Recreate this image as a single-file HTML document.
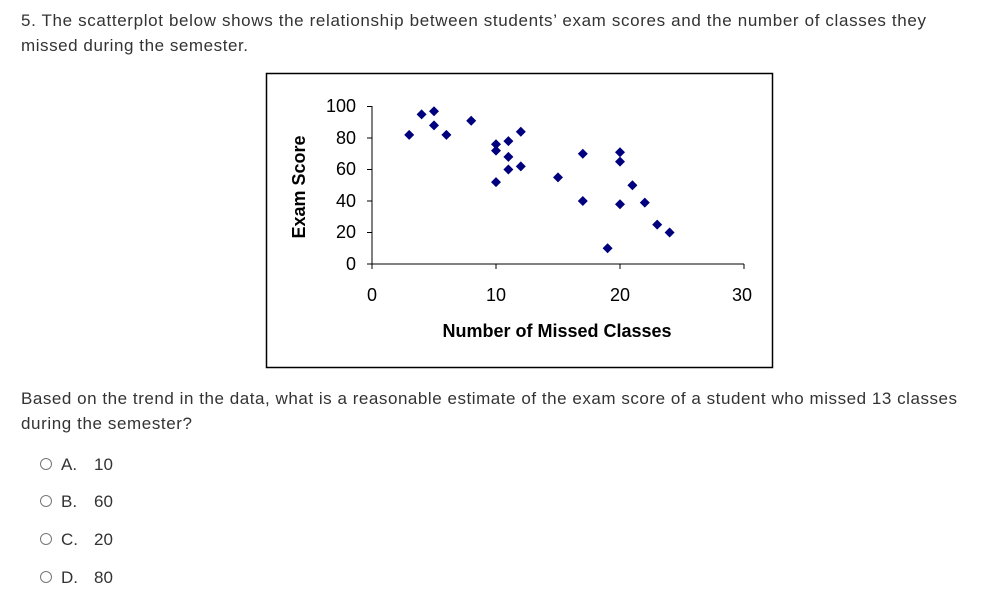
<!DOCTYPE html>
<html><head><style>
body{margin:0;background:#fff;width:995px;height:592px;overflow:hidden;font-family:"Liberation Sans",Arial,sans-serif;}
</style></head><body>
<svg width="995" height="592" xmlns="http://www.w3.org/2000/svg" font-family="Liberation Sans, Arial, sans-serif">
<g font-size="17" fill="#333">
<text x="21" y="26" textLength="905" lengthAdjust="spacing">5.  The scatterplot below shows the relationship between students’ exam scores and the number of classes they</text>
<text x="21" y="51" textLength="227" lengthAdjust="spacing">missed during the semester.</text>
<text x="21" y="404" textLength="936" lengthAdjust="spacing">Based on the trend in the data, what is a reasonable estimate of the exam score of a student who missed 13 classes</text>
<text x="21" y="429" textLength="171" lengthAdjust="spacing">during the semester?</text>
<text x="61" y="470">A.</text><text x="94" y="470">10</text>
<text x="61" y="507">B.</text><text x="94" y="507">60</text>
<text x="61" y="545">C.</text><text x="94" y="545">20</text>
<text x="61" y="583">D.</text><text x="94" y="583">80</text>
</g>
<g fill="none" stroke="#777" stroke-width="1">
<circle cx="46" cy="464" r="5.5"/><circle cx="46" cy="501" r="5.5"/><circle cx="46" cy="539" r="5.5"/><circle cx="46" cy="577" r="5.5"/>
</g>
<rect x="266.5" y="73.5" width="506" height="294" fill="#fff" stroke="#000" stroke-width="1.5"/>
<g stroke="#000" stroke-width="1">
<line x1="372" y1="106" x2="372" y2="264"/>
<line x1="372" y1="264" x2="744" y2="264"/>
<line x1="367" y1="106.5" x2="372" y2="106.5"/>
<line x1="367" y1="138" x2="372" y2="138"/>
<line x1="367" y1="169.5" x2="372" y2="169.5"/>
<line x1="367" y1="201" x2="372" y2="201"/>
<line x1="367" y1="232.5" x2="372" y2="232.5"/>
<line x1="367" y1="264" x2="372" y2="264"/>
<line x1="372" y1="264" x2="372" y2="269"/>
<line x1="496" y1="264" x2="496" y2="269"/>
<line x1="620" y1="264" x2="620" y2="269"/>
<line x1="744" y1="264" x2="744" y2="269"/>
</g>
<g font-size="18" fill="#000" text-anchor="end">
<text x="356" y="112">100</text><text x="356" y="144">80</text><text x="356" y="175">60</text>
<text x="356" y="207">40</text><text x="356" y="238">20</text><text x="356" y="270">0</text>
</g>
<g font-size="18" fill="#000" text-anchor="middle">
<text x="372" y="301">0</text><text x="496" y="301">10</text><text x="620" y="301">20</text><text x="742" y="301">30</text>
</g>
<text x="557" y="337" font-size="18" font-weight="bold" text-anchor="middle">Number of Missed Classes</text>
<text transform="translate(305,187) rotate(-90)" font-size="18" font-weight="bold" text-anchor="middle">Exam Score</text>
<path fill="#00007f" d="
M409.2 129.9l5 5l-5 5l-5 -5z
M421.6 109.4l5 5l-5 5l-5 -5z
M434 106.2l5 5l-5 5l-5 -5z
M434 120.4l5 5l-5 5l-5 -5z
M446.4 129.9l5 5l-5 5l-5 -5z
M471.2 115.7l5 5l-5 5l-5 -5z
M496 139.3l5 5l-5 5l-5 -5z
M496 145.6l5 5l-5 5l-5 -5z
M496 177.1l5 5l-5 5l-5 -5z
M508.4 136.1l5 5l-5 5l-5 -5z
M508.4 151.9l5 5l-5 5l-5 -5z
M508.4 164.5l5 5l-5 5l-5 -5z
M520.8 126.7l5 5l-5 5l-5 -5z
M520.8 161.4l5 5l-5 5l-5 -5z
M558 172.4l5 5l-5 5l-5 -5z
M582.8 148.8l5 5l-5 5l-5 -5z
M582.8 196l5 5l-5 5l-5 -5z
M607.6 243.3l5 5l-5 5l-5 -5z
M620 147.2l5 5l-5 5l-5 -5z
M620 156.6l5 5l-5 5l-5 -5z
M620 199.2l5 5l-5 5l-5 -5z
M632.4 180.3l5 5l-5 5l-5 -5z
M644.8 197.6l5 5l-5 5l-5 -5z
M657.2 219.6l5 5l-5 5l-5 -5z
M669.6 227.5l5 5l-5 5l-5 -5z"/>
</svg>
</body></html>
